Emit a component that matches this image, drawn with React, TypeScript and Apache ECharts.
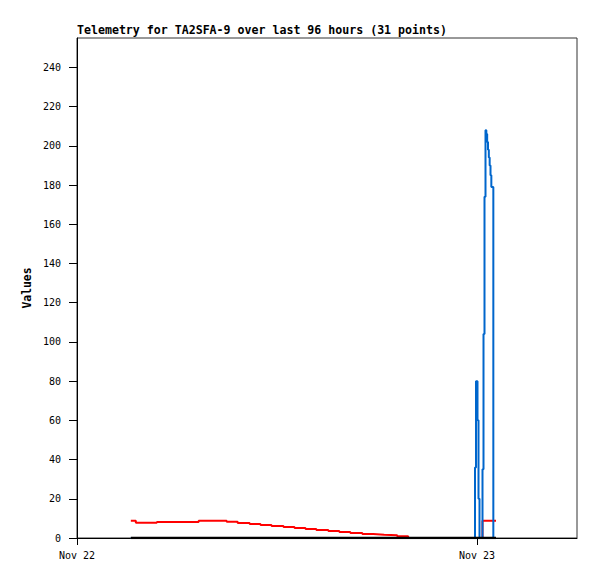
import React, { useEffect, useRef } from "react";
import * as echarts from "echarts";

// hours after Nov 22 00:00
const hours = [
  3.23, 3.53, 4.79, 7.3, 8.98, 9.64, 10.36, 11.01, 11.67, 12.39, 13.05, 13.71,
  14.36, 15.08, 15.74, 16.4, 17.12, 17.77, 18.43, 19.21, 19.87, 23.88, 23.94,
  24.03, 24.09, 24.15, 24.33, 24.39, 24.45, 24.51, 24.56, 24.61, 24.66, 24.71,
  24.76, 24.81, 24.86, 24.98, 25.14,
];
const redValues = [
  8.8, 7.8, 8.2, 8.8, 8.3, 7.7, 7.2, 6.6, 6.1, 5.6, 5.1, 4.6, 4.1, 3.6, 3.1,
  2.6, 2.0, 1.7, 1.4, 0.9, 0, 0, 0, 0, 0, 0, 8.8, 8.8, 8.8, 8.8, 8.8, 8.8, 8.8,
  8.8, 8.8, 8.8, 8.8, 8.8, 8.8,
];
const blueValues = [
  0, 0, 0, 0, 0, 0, 0, 0, 0, 0, 0, 0, 0, 0, 0, 0, 0, 0, 0, 0, 0, 36, 80, 60, 20,
  0, 35, 104, 174, 208, 206, 202, 198, 194, 190, 185, 179, 0, 0,
];
const blackValues = hours.map(() => 0);
const xTickHours = [0, 24];
const xTickLabels = ["Nov 22", "Nov 23"];
const yTicks = [0, 20, 40, 60, 80, 100, 120, 140, 160, 180, 200, 220, 240];

const FONT = "DejaVu Sans Mono";

export default function App() {
  const ref = useRef<HTMLDivElement>(null);
  useEffect(() => {
    const chart = echarts.init(ref.current!, null, { renderer: "svg" });
    const pair = (vals: number[]) => hours.map((h, i) => [h, vals[i]]);
    chart.setOption({
      animation: false,
      backgroundColor: "#ffffff",
      title: {
        text: "Telemetry for TA2SFA-9 over last 96 hours (31 points)",
        left: 77,
        top: 24,
        padding: 0,
        textStyle: { fontFamily: FONT, fontSize: 11.6, fontWeight: "bold", color: "#000" },
      },
      grid: {
        left: 77,
        right: 20,
        top: 38,
        bottom: 41,
        show: true,
        borderColor: "#333",
        borderWidth: 1,
      },
      xAxis: {
        type: "value",
        min: 0,
        max: 30,
        interval: 24,
        splitLine: { show: false },
        axisLine: { lineStyle: { color: "#000", width: 1 } },
        axisTick: { length: 7, lineStyle: { color: "#000" }, customValues: xTickHours },
        axisLabel: {
          customValues: xTickHours,
          formatter: (v: number) => xTickLabels[xTickHours.indexOf(v)] ?? "",
          fontFamily: FONT,
          fontSize: 10,
          color: "#000",
          margin: 12,
        },
      },
      yAxis: {
        type: "value",
        min: 0,
        max: 255,
        interval: 20,
        name: "Values",
        nameLocation: "middle",
        nameGap: 38,
        nameRotate: 90,
        nameTextStyle: { fontFamily: FONT, fontSize: 11.4, fontWeight: "bold", color: "#000" },
        splitLine: { show: false },
        axisLine: { show: true, lineStyle: { color: "#000", width: 1 } },
        axisTick: { show: true, length: 8, lineStyle: { color: "#000" }, customValues: yTicks },
        axisLabel: {
          customValues: yTicks,
          fontFamily: FONT,
          fontSize: 10,
          color: "#000",
          margin: 16,
        },
      },
      series: [
        {
          type: "line",
          step: "end",
          data: pair(redValues),
          symbol: "none",
          lineStyle: { color: "#ff0000", width: 2 },
          z: 2,
        },
        {
          type: "line",
          step: "end",
          data: pair(blueValues),
          symbol: "none",
          lineStyle: { color: "#0066cc", width: 2 },
          z: 3,
        },
        {
          type: "line",
          data: pair(blackValues),
          symbol: "none",
          lineStyle: { color: "#000000", width: 2.5 },
          z: 4,
        },
      ],
    });
    return () => chart.dispose();
  }, []);
  return (
    <div
      ref={ref}
      style={{ position: "absolute", left: 0, top: 0, width: 597, height: 579 }}
    />
  );
}
